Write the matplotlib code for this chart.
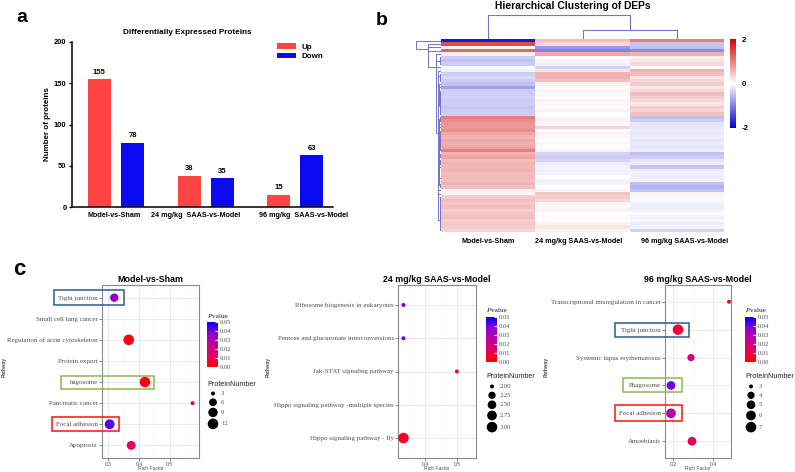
import numpy as np
import matplotlib
matplotlib.use('Agg')
import matplotlib.pyplot as plt  # noqa E402
import matplotlib.transforms as mtransforms  # noqa E402
from matplotlib.colors import LinearSegmentedColormap, Normalize  # noqa E402
from matplotlib.patches import Rectangle  # noqa E402
from matplotlib.cm import ScalarMappable  # noqa E402

W, H = 795, 472
SANS = 'Liberation Sans'
SERIF = 'Liberation Serif'
GRAY = '#4D4D4D'
plt.rcParams['font.family'] = SANS

# ---- panel a: DEP counts
groups = ['Model-vs-Sham', '24 mg/kg  SAAS-vs-Model', '96 mg/kg  SAAS-vs-Model']
up_counts = [155, 38, 15]
down_counts = [78, 35, 63]

# ---- panel b: heatmap rows (top to bottom)
heat_columns = ['Model-vs-Sham', '24 mg/kg SAAS-vs-Model', '96 mg/kg SAAS-vs-Model']
heat_model = [-1.8, 1.4, 0.05, 1.2, 0.1, -0.4, -0.5, -0.4, 0.0, -0.1,
              -0.4, -0.3, -0.4, -0.5, -0.75, -0.4, -0.4, -0.35, -0.4, -0.4,
              -0.45, -0.4, -0.4, 1.0, 0.9, 0.8, 0.8, 0.9, 0.7, 0.6,
              0.7, 0.6, 0.7, 1.0, 0.6, 0.7, 0.5, 0.6, 0.55, 0.6,
              0.5, 0.55, 0.5, 0.6, 0.5, 0.1, 0.05, 0.4, 0.5, 0.45,
              0.5, 0.4, 0.45, 0.5, 0.4, 0.45, 0.4, 0.35]
heat_24 = [0.5, 0.3, -0.8, -1.0, 0.7, 0.0, 0.1, -0.1, -0.35, 0.2,
           0.6, 0.6, 0.5, 0.1, 0.0, 0.1, -0.05, 0.0, 0.1, -0.05,
           0.0, 0.1, 0.0, 0.05, 0.1, -0.05, 0.35, 0.0, 0.1, -0.05,
           0.0, 0.05, 0.0, 0.1, -0.35, -0.4, -0.35, -0.15, -0.1, -0.1,
           -0.1, 0.0, -0.1, -0.1, 0.0, 0.1, 0.45, 0.4, 0.3, 0.1,
           0.05, 0.1, 0.0, 0.05, 0.0, 0.1, 0.2, 0.1]
heat_96 = [1.0, -0.45, -0.5, -0.9, 0.6, 0.1, 0.2, 0.3, 0.0, 0.6,
           0.5, 0.2, 0.3, 0.4, 0.2, 0.3, 0.5, 0.4, 0.3, 0.2,
           0.4, 0.3, 0.5, -0.5, -0.4, -0.2, -0.2, -0.15, -0.2, -0.15,
           -0.2, -0.15, -0.2, -0.15, -0.5, -0.4, -0.2, -0.15, -0.45, -0.15,
           -0.1, -0.15, -0.1, -0.5, -0.6, -0.5, 0.1, -0.05, -0.05, -0.1,
           -0.15, -0.1, 0.0, -0.1, -0.05, -0.15, -0.1, -0.35]
heat_ticks = [2, 0, -2]

# ---- panel c: KEGG enrichment (top to bottom)
nan = np.nan
ms_pathways = ['Tight junction', 'Small cell lung cancer',
               'Regulation of actin cytoskeleton', 'Protein export',
               'hagosome', 'Pancreatic cancer', 'Focal adhesion', 'Apoptosis']
ms_rich = [0.32, nan, 0.367, nan, 0.42, 0.575, 0.305, 0.375]
ms_pvalue = [0.035, nan, 0.003, nan, 0.002, 0.02, 0.042, 0.013]
ms_count = [7, nan, 12, nan, 12, 3, 10, 8]
ms_size_keys = [3, 6, 9, 12]

s24_pathways = ['Ribosome biogenesis in eukaryotes',
                'Pentose and glucuronate interconversions',
                'Jak-STAT signaling pathway',
                'Hippo signaling pathway -multiple species',
                'Hippo signaling pathway - fly']
s24_rich = [0.333, 0.333, 0.5, nan, 0.333]
s24_pvalue = [0.04, 0.04, 0.013, nan, 0.006]
s24_count = [2, 2, 2, nan, 3]
s24_size_keys = [2.00, 2.25, 2.50, 2.75, 3.00]

s96_pathways = ['Transcriptional misregulation in cancer', 'Tight junction',
                'Systemic lupus erythematosus', 'Phagosome', 'Focal adhesion',
                'Amoebiasis']
s96_rich = [0.48, 0.225, 0.29, 0.19, 0.19, 0.295]
s96_pvalue = [0.003, 0.008, 0.02, 0.04, 0.028, 0.011]
s96_count = [3, 7, 4, 5, 6, 5]
s96_size_keys = [3, 4, 5, 6, 7]
pvalue_ticks = [0.0, 0.01, 0.02, 0.03, 0.04, 0.05]


def box(x0, y0, x1, y1):
    # pixel rectangle (top-left origin) -> figure fraction
    return [x0 / W, 1 - y1 / H, (x1 - x0) / W, (y1 - y0) / H]


fig = plt.figure(figsize=(W / 100, H / 100), dpi=100)
over = fig.add_axes([0, 0, 1, 1], zorder=10)
over.set_xlim(0, W)
over.set_ylim(H, 0)
over.axis('off')

# ===================== panel a =====================
bold = {'family': SANS, 'weight': 'bold'}
ax = fig.add_axes(box(72, 42, 333, 207))
x = np.arange(len(groups))
b1 = ax.bar(x - 0.185, up_counts, 0.257, color='#FF4444', label='Up')
b2 = ax.bar(x + 0.185, down_counts, 0.257, color='#0B0BF2', label='Down')
for bars in (b1, b2):
    ax.bar_label(bars, padding=2.5, fontsize=5.5, fontweight='bold')
ax.set_xlim(-0.49, 2.42)
ax.set_ylim(0, 200)
ax.set_yticks([0, 50, 100, 150, 200])
# the group captions sit a little off the group centres in the original
ax.set_xticks(x + np.array([-0.02, -0.11, 0.09]))
ax.set_xticklabels(groups, fontsize=5.2, fontweight='bold')
for lab in ax.get_yticklabels():
    lab.set_fontweight('bold')
ax.tick_params(axis='y', labelsize=5.4, length=2.5, width=1.0, pad=1.5)
ax.tick_params(axis='x', length=0, pad=3.5)
for s in ('top', 'right'):
    ax.spines[s].set_visible(False)
for s in ('left', 'bottom'):
    ax.spines[s].set_linewidth(1.1)
ax.set_ylabel('Number of proteins', fontsize=5.8, fontweight='bold', labelpad=2)
ax.legend(loc='upper left', bbox_to_anchor=(0.785, 0.995), frameon=False,
          prop={**bold, 'size': 5.8}, handlelength=2.4, handleheight=0.75,
          labelspacing=0.25, borderaxespad=0, borderpad=0, handletextpad=0.7)
over.text(187, 32, 'Differentially Expressed Proteins', fontsize=5.9,
          fontweight='bold', ha='center', va='center')
over.text(16, 22, 'a', fontsize=14, fontweight='bold', ha='left', va='baseline')

# ===================== panel b =====================
mat = np.column_stack([heat_model, heat_24, heat_96])
nrow = mat.shape[0]
heat_cmap = LinearSegmentedColormap.from_list('heat', ['#0000CD', '#FFFFFF', '#D00000'])
hax = fig.add_axes(box(441, 39, 724, 232))
im = hax.imshow(mat, aspect='auto', cmap=heat_cmap, vmin=-2, vmax=2,
                interpolation='nearest')
hax.set_xticks(np.arange(3) + np.array([0.0, -0.04, 0.08]))
hax.set_xticklabels(heat_columns, fontsize=5.2, fontweight='bold')
hax.set_yticks([])
hax.tick_params(axis='x', length=0, pad=4)
for s in hax.spines.values():
    s.set_visible(False)

cax = fig.add_axes(box(730, 39, 736, 128))
cb = fig.colorbar(im, cax=cax)
cb.set_ticks(heat_ticks)
cb.set_ticklabels([str(t) for t in heat_ticks])
cb.outline.set_visible(False)
cax.tick_params(length=0, labelsize=5.6, pad=4)
for lab in cax.get_yticklabels():
    lab.set_fontweight('bold')

over.text(573, 6, 'Hierarchical Clustering of DEPs', fontsize=7.4,
          fontweight='bold', ha='center', va='center')
over.text(376, 25, 'b', fontsize=14, fontweight='bold', ha='left', va='baseline')


def adjacent_linkage(vectors, method):
    # agglomerative clustering that keeps the drawn leaf order
    n = len(vectors)
    dmat = np.sqrt(((vectors[:, None, :] - vectors[None, :, :]) ** 2).sum(-1))
    clusters = [[i] for i in range(n)]
    pos = [float(i) for i in range(n)]
    hts = [0.0] * n
    segs = []
    while len(clusters) > 1:
        dd = []
        for k in range(len(clusters) - 1):
            block = dmat[np.ix_(clusters[k], clusters[k + 1])]
            dd.append(block.min() if method == 'single' else block.mean())
        k = int(np.argmin(dd))
        h = max(dd[k], hts[k], hts[k + 1])
        segs.append((pos[k], hts[k], pos[k + 1], hts[k + 1], h))
        clusters[k] = clusters[k] + clusters[k + 1]
        pos[k] = (pos[k] + pos[k + 1]) / 2
        hts[k] = h
        del clusters[k + 1], pos[k + 1], hts[k + 1]
    return segs


dcol = '#7373CC'
rax = fig.add_axes(box(416, 39, 441, 232))
row_segs = adjacent_linkage(mat, 'single')
for pa, ha, pb, hb, h in row_segs:
    # stretched heights: the bulk of the tree hugs the heatmap as in the original
    rax.plot([ha ** 1.6, h ** 1.6, h ** 1.6, hb ** 1.6], [pa, pa, pb, pb],
             color=dcol, lw=0.7)
rax.set_ylim(nrow - 0.5, -0.5)
rax.set_xlim(max(s[4] for s in row_segs) ** 1.6 * 1.02, 0)
rax.axis('off')

tax = fig.add_axes(box(441, 15, 724, 39))
col_segs = adjacent_linkage(mat.T, 'average')
for pa, ha, pb, hb, h in col_segs:
    tax.plot([pa, pa, pb, pb], [ha, h, h, hb], color=dcol, lw=0.8)
tax.set_xlim(-0.5, 2.5)
tax.set_ylim(0, max(s[4] for s in col_segs) * 1.02)
tax.axis('off')

# ===================== panel c =====================
pv_cmap = LinearSegmentedColormap.from_list(
    'pv', ['#FF0000', '#E8005A', '#C4009A', '#8F00CF', '#0000FF'])
pv_norm = Normalize(0, 0.05)


def dot_px(n, keys):
    lo, hi = min(keys), max(keys)
    return 4.0 + 6.6 * np.sqrt((np.asarray(n, float) - lo) / (hi - lo))


panels = [
    dict(title='Model-vs-Sham', rect=(102, 285, 199, 458), xlim=(0.28, 0.596),
         ticks=[0.3, 0.4, 0.5], minor=[0.35, 0.45, 0.55],
         names=ms_pathways, rich=ms_rich, pv=ms_pvalue, cnt=ms_count,
         keys=ms_size_keys, keyfmt='{:g}', leg_x=207, pv_y=317, cb=(322, 367),
         size_y=384, path_x=4,
         boxes=[('Tight junction', '#2E5A8C', -0.495, 0.227, 0.72),
                ('hagosome', '#8DB84A', -0.42, 0.536, 0.62),
                ('Focal adhesion', '#FF1010', -0.515, 0.175, 0.68)]),
    dict(title='24 mg/kg SAAS-vs-Model', rect=(398, 285, 476, 458),
         xlim=(0.316, 0.56), ticks=[0.4, 0.5], minor=[0.35, 0.45, 0.55],
         names=s24_pathways, rich=s24_rich, pv=s24_pvalue, cnt=s24_count,
         keys=s24_size_keys, keyfmt='{:.2f}', leg_x=486, pv_y=311, cb=(317, 362),
         size_y=377, path_x=268, boxes=[]),
    dict(title='96 mg/kg SAAS-vs-Model', rect=(665, 285, 731, 458),
         xlim=(0.16, 0.49), ticks=[0.2, 0.4], minor=[0.3],
         names=s96_pathways, rich=s96_rich, pv=s96_pvalue, cnt=s96_count,
         keys=s96_size_keys, keyfmt='{:g}', leg_x=745, pv_y=311, cb=(317, 362),
         size_y=377, path_x=546,
         boxes=[('Tight junction', '#2E5A8C', -0.76, 0.36, 0.5),
                ('Phagosome', '#8DB84A', -0.64, 0.26, 0.5),
                ('Focal adhesion', '#FF1010', -0.76, 0.26, 0.57)]),
]

for p in panels:
    x0, y0, x1, y1 = p['rect']
    cx = fig.add_axes(box(x0, y0, x1, y1))
    n = len(p['names'])
    ypos = np.arange(n, 0, -1)
    rich = np.array(p['rich'], float)
    pv = np.array(p['pv'], float)
    cnt = np.array(p['cnt'], float)
    ok = ~np.isnan(rich)
    d = dot_px(cnt[ok], p['keys'])
    cx.scatter(rich[ok], ypos[ok], s=(d * 0.72) ** 2, c=pv[ok], cmap=pv_cmap,
               norm=pv_norm, linewidths=0, zorder=3)
    cx.set_xlim(*p['xlim'])
    cx.set_ylim(0.4, n + 0.6)
    cx.set_yticks(ypos)
    cx.set_yticklabels(p['names'], fontsize=5.0, family=SERIF, color=GRAY)
    cx.set_xticks(p['ticks'])
    cx.set_xticklabels(['{:g}'.format(t) for t in p['ticks']], fontsize=3.6,
                       color=GRAY)
    cx.set_xticks(p['minor'], minor=True)
    cx.tick_params(which='major', length=2, width=0.5, color='#555555', pad=1)
    cx.tick_params(which='minor', length=0)
    cx.grid(True, which='major', color='#E6E6E6', lw=0.6)
    cx.grid(True, which='minor', axis='x', color='#F2F2F2', lw=0.4)
    cx.set_axisbelow(True)
    for s in cx.spines.values():
        s.set_color('#8A8A8A')
        s.set_linewidth(0.8)
    trans = mtransforms.blended_transform_factory(cx.transAxes, cx.transData)
    for name, col, bx0, bx1, bh in p['boxes']:
        yy = ypos[p['names'].index(name)]
        cx.add_patch(Rectangle((bx0, yy - bh / 2), bx1 - bx0, bh, transform=trans,
                               fill=False, edgecolor=col, lw=1.1, clip_on=False,
                               zorder=5))

    mid = (x0 + x1) / 2
    over.text(mid, 279, p['title'], fontsize=6.4, fontweight='bold',
              ha='center', va='center')
    over.text(mid, 469, 'Rich Factor', fontsize=3.6, color=GRAY,
              ha='center', va='center')
    over.text(p['path_x'], 367, 'Pathway', fontsize=3.6, color=GRAY,
              fontweight='bold', rotation=90, ha='center', va='center')

    # p-value colour legend
    lx = p['leg_x']
    over.text(lx, p['pv_y'], 'P', fontsize=5.2, family=SERIF, style='italic',
              color='#222222', ha='left', va='center')
    over.text(lx + 5, p['pv_y'], 'value', fontsize=5.2, family=SERIF,
              color='#222222', ha='left', va='center')
    pcax = fig.add_axes(box(lx, p['cb'][0], lx + 11, p['cb'][1]))
    pcb = fig.colorbar(ScalarMappable(norm=pv_norm, cmap=pv_cmap), cax=pcax)
    pcb.set_ticks(pvalue_ticks)
    pcb.set_ticklabels(['{:.2f}'.format(t) for t in pvalue_ticks])
    pcb.outline.set_visible(False)
    pcax.tick_params(length=2, color='white', direction='in', pad=1.5)
    for lab in pcax.get_yticklabels():
        lab.set_fontsize(4.7)
        lab.set_family(SERIF)
        lab.set_color(GRAY)

    # size legend
    over.text(lx, p['size_y'], 'ProteinNumber', fontsize=5.2, color='#222222',
              ha='left', va='center')
    kd = dot_px(p['keys'], p['keys'])
    ky = [p['size_y'] + 9.5]
    for i in range(1, len(kd)):
        ky.append(ky[-1] + max(8.8, (kd[i - 1] + kd[i]) / 2 + 1.5))
    over.scatter([lx + 6] * len(kd), ky, s=(kd * 0.72) ** 2, color='black',
                 linewidths=0)
    for k, yy in zip(p['keys'], ky):
        over.text(lx + 14, yy, p['keyfmt'].format(k), fontsize=4.7, family=SERIF,
                  color=GRAY, ha='left', va='center')

over.text(13, 275, 'c', fontsize=16, fontweight='bold', ha='left', va='baseline')

fig.savefig('out.png', dpi=100)
plt.close(fig)
